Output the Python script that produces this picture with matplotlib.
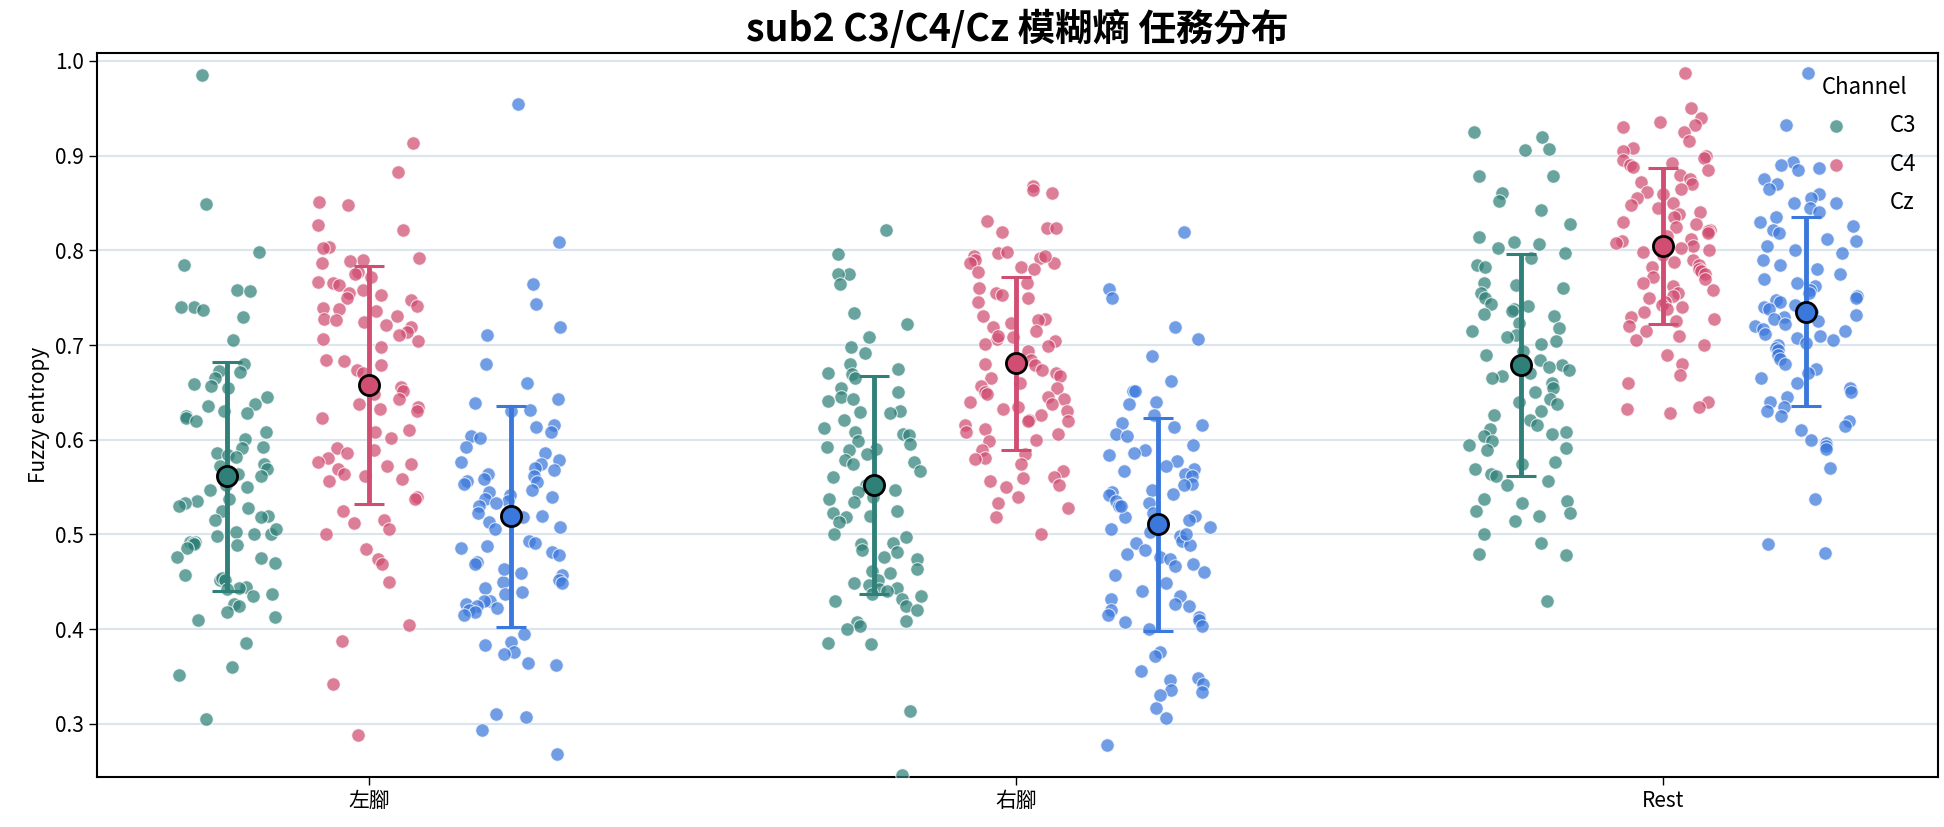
import numpy as np
import matplotlib
matplotlib.use("Agg")
from matplotlib import pyplot as plt

plt.rcParams['font.family'] = ['Noto Sans CJK TC', 'DejaVu Sans']

tasks = ['左腳', '右腳', 'Rest']
channels = ['C3', 'C4', 'Cz']

# fuzzy entropy per trial
left_c3 = [0.985, 0.849, 0.798, 0.785, 0.758, 0.757, 0.74, 0.74, 0.737, 0.730, 0.705, 0.492, 0.452, 0.68,
           0.673, 0.672, 0.47, 0.445, 0.665, 0.659, 0.657, 0.655, 0.645, 0.638, 0.636, 0.5, 0.63, 0.628,
           0.625, 0.623, 0.62, 0.608, 0.601, 0.592, 0.591, 0.586, 0.584, 0.582, 0.574, 0.572, 0.569, 0.564,
           0.562, 0.552, 0.55, 0.547, 0.537, 0.535, 0.533, 0.53, 0.528, 0.525, 0.52, 0.518, 0.515, 0.506,
           0.503, 0.50, 0.498, 0.492, 0.491, 0.49, 0.489, 0.486, 0.476, 0.475, 0.457, 0.454, 0.452, 0.444,
           0.442, 0.437, 0.435, 0.427, 0.425, 0.418, 0.413, 0.41, 0.385, 0.36, 0.352, 0.305]
left_c4 = [0.913, 0.883, 0.851, 0.848, 0.827, 0.821, 0.804, 0.802, 0.792, 0.79, 0.789, 0.787, 0.777, 0.775,
           0.772, 0.767, 0.765, 0.763, 0.758, 0.755, 0.753, 0.75, 0.748, 0.741, 0.739, 0.738, 0.736, 0.731,
           0.728, 0.726, 0.724, 0.721, 0.719, 0.714, 0.711, 0.706, 0.704, 0.698, 0.684, 0.683, 0.679, 0.674,
           0.671, 0.656, 0.651, 0.648, 0.643, 0.638, 0.635, 0.633, 0.630, 0.623, 0.61, 0.608, 0.602, 0.591,
           0.589, 0.586, 0.581, 0.577, 0.574, 0.572, 0.569, 0.564, 0.562, 0.559, 0.557, 0.54, 0.537, 0.525,
           0.515, 0.512, 0.506, 0.501, 0.485, 0.474, 0.469, 0.45, 0.404, 0.388, 0.342, 0.288]
left_cz = [0.955, 0.809, 0.764, 0.743, 0.719, 0.711, 0.680, 0.45, 0.43, 0.66, 0.643, 0.639, 0.52, 0.631,
           0.630, 0.616, 0.613, 0.608, 0.604, 0.602, 0.592, 0.586, 0.579, 0.577, 0.574, 0.570, 0.568, 0.564,
           0.562, 0.559, 0.557, 0.555, 0.553, 0.547, 0.545, 0.542, 0.54, 0.537, 0.535, 0.533, 0.530, 0.525,
           0.523, 0.519, 0.518, 0.513, 0.508, 0.506, 0.493, 0.491, 0.488, 0.486, 0.481, 0.478, 0.471, 0.469,
           0.464, 0.459, 0.457, 0.452, 0.449, 0.444, 0.439, 0.437, 0.43, 0.427, 0.425, 0.422, 0.42, 0.418,
           0.415, 0.395, 0.386, 0.383, 0.376, 0.374, 0.364, 0.362, 0.31, 0.307, 0.294, 0.268]
right_c3 = [0.821, 0.796, 0.775, 0.775, 0.764, 0.734, 0.722, 0.708, 0.698, 0.692, 0.680, 0.675, 0.670, 0.669,
            0.665, 0.655, 0.65, 0.645, 0.643, 0.641, 0.630, 0.629, 0.628, 0.621, 0.612, 0.608, 0.606, 0.605,
            0.599, 0.596, 0.592, 0.590, 0.589, 0.585, 0.579, 0.577, 0.574, 0.567, 0.561, 0.552, 0.55, 0.547,
            0.545, 0.54, 0.537, 0.534, 0.525, 0.523, 0.52, 0.518, 0.513, 0.501, 0.497, 0.491, 0.49, 0.484,
            0.481, 0.476, 0.474, 0.464, 0.461, 0.459, 0.452, 0.449, 0.447, 0.444, 0.442, 0.44, 0.437, 0.435,
            0.432, 0.43, 0.425, 0.42, 0.409, 0.408, 0.403, 0.40, 0.385, 0.384, 0.314, 0.246]
right_c4 = [0.868, 0.861, 0.864, 0.831, 0.824, 0.819, 0.824, 0.797, 0.794, 0.792, 0.79, 0.787, 0.798, 0.794,
            0.787, 0.782, 0.780, 0.777, 0.765, 0.760, 0.755, 0.753, 0.75, 0.745, 0.731, 0.728, 0.726, 0.723,
            0.719, 0.715, 0.709, 0.706, 0.704, 0.701, 0.699, 0.694, 0.684, 0.679, 0.674, 0.670, 0.667, 0.665,
            0.657, 0.655, 0.65, 0.648, 0.645, 0.643, 0.638, 0.635, 0.633, 0.630, 0.626, 0.621, 0.616, 0.611,
            0.608, 0.606, 0.599, 0.589, 0.585, 0.581, 0.574, 0.567, 0.561, 0.557, 0.552, 0.55, 0.54, 0.533,
            0.528, 0.518, 0.501, 0.62, 0.60, 0.58, 0.66, 0.62, 0.56, 0.68, 0.64, 0.71]
right_cz = [0.819, 0.759, 0.750, 0.719, 0.706, 0.688, 0.662, 0.652, 0.651, 0.640, 0.638, 0.626, 0.618, 0.616,
            0.613, 0.606, 0.604, 0.595, 0.589, 0.586, 0.584, 0.578, 0.572, 0.569, 0.567, 0.564, 0.562, 0.553,
            0.552, 0.547, 0.545, 0.543, 0.542, 0.535, 0.533, 0.530, 0.523, 0.52, 0.518, 0.515, 0.508, 0.506,
            0.503, 0.498, 0.493, 0.491, 0.489, 0.484, 0.479, 0.476, 0.474, 0.469, 0.467, 0.457, 0.449, 0.44,
            0.435, 0.432, 0.427, 0.425, 0.42, 0.415, 0.413, 0.41, 0.408, 0.403, 0.40, 0.376, 0.372, 0.356,
            0.348, 0.346, 0.342, 0.336, 0.334, 0.331, 0.317, 0.306, 0.278, 0.50, 0.53, 0.46]
rest_c3 = [0.925, 0.92, 0.907, 0.906, 0.879, 0.878, 0.861, 0.852, 0.843, 0.828, 0.814, 0.809, 0.807, 0.802,
           0.797, 0.792, 0.785, 0.782, 0.765, 0.763, 0.76, 0.755, 0.75, 0.743, 0.741, 0.738, 0.736, 0.733,
           0.731, 0.723, 0.718, 0.715, 0.711, 0.708, 0.704, 0.701, 0.694, 0.689, 0.684, 0.679, 0.677, 0.674,
           0.670, 0.667, 0.665, 0.660, 0.655, 0.65, 0.643, 0.640, 0.638, 0.630, 0.626, 0.621, 0.616, 0.611,
           0.608, 0.606, 0.604, 0.599, 0.594, 0.591, 0.589, 0.577, 0.574, 0.569, 0.564, 0.562, 0.557, 0.552,
           0.537, 0.535, 0.533, 0.525, 0.523, 0.520, 0.514, 0.501, 0.491, 0.479, 0.478, 0.43]
rest_c4 = [0.987, 0.95, 0.94, 0.936, 0.932, 0.93, 0.925, 0.915, 0.908, 0.905, 0.9, 0.898, 0.895, 0.892,
           0.89, 0.888, 0.885, 0.88, 0.875, 0.872, 0.87, 0.865, 0.862, 0.86, 0.855, 0.85, 0.848, 0.845,
           0.84, 0.838, 0.835, 0.83, 0.828, 0.825, 0.822, 0.82, 0.818, 0.815, 0.812, 0.81, 0.808, 0.805,
           0.802, 0.8, 0.798, 0.795, 0.79, 0.788, 0.785, 0.782, 0.78, 0.778, 0.775, 0.772, 0.77, 0.765,
           0.762, 0.758, 0.755, 0.752, 0.75, 0.745, 0.742, 0.74, 0.738, 0.735, 0.73, 0.728, 0.725, 0.72,
           0.715, 0.71, 0.705, 0.7, 0.69, 0.68, 0.668, 0.66, 0.64, 0.635, 0.632, 0.628]
rest_cz = [0.987, 0.932, 0.893, 0.89, 0.887, 0.885, 0.875, 0.87, 0.865, 0.86, 0.855, 0.85, 0.845, 0.84,
           0.835, 0.83, 0.826, 0.822, 0.818, 0.812, 0.81, 0.805, 0.8, 0.797, 0.79, 0.785, 0.78, 0.775,
           0.77, 0.765, 0.762, 0.758, 0.755, 0.752, 0.75, 0.748, 0.745, 0.742, 0.74, 0.738, 0.735, 0.732,
           0.73, 0.727, 0.725, 0.722, 0.72, 0.717, 0.715, 0.712, 0.71, 0.707, 0.705, 0.702, 0.7, 0.697,
           0.695, 0.69, 0.685, 0.68, 0.675, 0.67, 0.665, 0.66, 0.655, 0.65, 0.645, 0.64, 0.635, 0.63,
           0.625, 0.62, 0.615, 0.61, 0.6, 0.597, 0.593, 0.59, 0.57, 0.537, 0.49, 0.48]

data = {
    '左腳': [left_c3, left_c4, left_cz],
    '右腳': [right_c3, right_c4, right_cz],
    'Rest': [rest_c3, rest_c4, rest_cz],
}

colors = ['#2e8078', '#d14d72', '#3b78dc']
offsets = [-0.22, 0.0, 0.22]

fig = plt.figure(figsize=(19.44, 8.27), dpi=100)
ax = fig.add_axes([0.05, 0.0605, 0.947, 0.875])

rng = np.random.default_rng(2)
for i, task in enumerate(tasks):
    for j, ch in enumerate(channels):
        vals = np.array(data[task][j])
        # jitter only the horizontal position
        xs = i + offsets[j] + rng.uniform(-0.08, 0.08, len(vals))
        ax.scatter(xs, vals, s=95, color=colors[j], alpha=0.72, edgecolor='white', linewidth=0.8,
                   zorder=3, label=ch if i == 0 else None)

for i, task in enumerate(tasks):
    for j, ch in enumerate(channels):
        vals = np.array(data[task][j])
        m, sd = vals.mean(), vals.std()
        ax.errorbar(i + offsets[j], m, yerr=sd, fmt='none', ecolor=colors[j], elinewidth=3.5,
                    capsize=11, capthick=2.2, zorder=4)
        ax.plot(i + offsets[j], m, 'o', markersize=14.5, markerfacecolor=colors[j],
                markeredgecolor='black', markeredgewidth=2, zorder=5)

ax.set_xlim(-0.42, 2.425)
ax.set_ylim(0.244, 1.008)
ax.set_xticks(range(len(tasks)))
ax.set_xticklabels(tasks, fontsize=15)
ax.set_yticks([0.3, 0.4, 0.5, 0.6, 0.7, 0.8, 0.9, 1.0])
ax.set_yticklabels(['0.3', '0.4', '0.5', '0.6', '0.7', '0.8', '0.9', '1.0'], fontsize=15)
ax.tick_params(axis='both', length=6, width=1)
ax.yaxis.grid(True, color='#dbe5ee', linewidth=1.5, zorder=0)
ax.set_axisbelow(True)
for sp in ax.spines.values():
    sp.set_linewidth(1.5)
ax.set_ylabel('Fuzzy entropy', fontsize=15)
ax.set_title('sub2 C3/C4/Cz 模糊熵 任務分布', fontsize=27, fontweight='bold', pad=9)

leg = ax.legend(title='Channel', loc='upper right', frameon=False, fontsize=16, title_fontsize=16,
                borderaxespad=0.6, handletextpad=1.4, labelspacing=0.7)

plt.savefig('out.png', dpi=100)
